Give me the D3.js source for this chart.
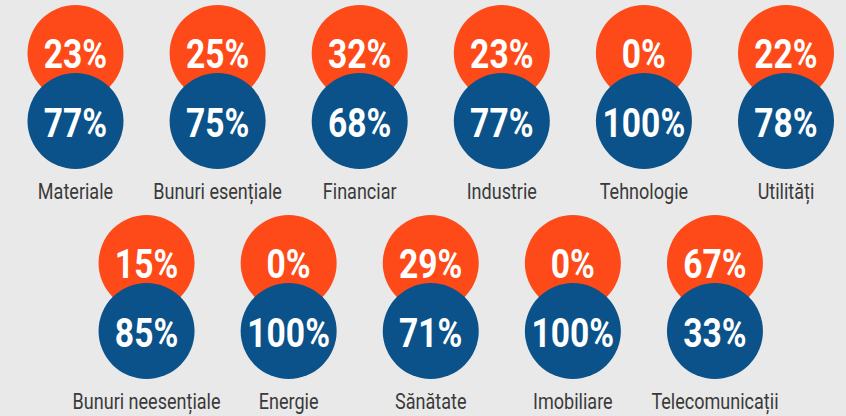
<!DOCTYPE html>
<html>
<head>
<meta charset="utf-8">
<script src="https://cdn.jsdelivr.net/npm/d3@7"></script>
<style>
  html, body { margin: 0; padding: 0; background: #e9e9e9; }
  svg { display: block; }
</style>
</head>
<body>
<svg id="chart" width="846" height="416"></svg>
<script>
// Sector breakdown: share in the orange group vs. the blue group (percent)
const sectors = ["Materiale", "Bunuri esențiale", "Financiar", "Industrie", "Tehnologie", "Utilități",
                 "Bunuri neesențiale", "Energie", "Sănătate", "Imobiliare", "Telecomunicații"];
const orangeShare = [23, 25, 32, 23, 0, 22, 15, 0, 29, 0, 67];
const blueShare   = [77, 75, 68, 77, 100, 78, 85, 100, 71, 100, 33];
const rowSizes = [6, 5];

const W = 846, H = 416;
const svg = d3.select("#chart");
svg.append("rect").attr("width", W).attr("height", H).attr("fill", "#e9e9e9");

const FONT = "Roboto, 'Liberation Sans', sans-serif";
const R = 48;
// horizontal squeeze that gives the condensed lettering
const PCT_SX = 0.84, LABEL_SX = 0.82;

// Staggered layout: row 1 sits on even slots, row 2 on odd slots
const slotX = d3.scaleLinear().domain([0, 10]).range([75.5, 786]);
const rowY = d3.scaleLinear().domain([0, 1]).range([0, 210]);

const items = sectors.map((name, i) => {
  const row = i < rowSizes[0] ? 0 : 1;
  const col = row === 0 ? i : i - rowSizes[0];
  return { name, orange: orangeShare[i], blue: blueShare[i], slot: col * 2 + row, row };
});

const fmt = v => v + "%";

const g = svg.selectAll("g.sector").data(items).join("g")
  .attr("class", "sector")
  .attr("transform", d => `translate(${slotX(d.slot)},${rowY(d.row)})`);

g.append("circle").attr("cy", 53).attr("r", R).attr("fill", "#fd4a18");
g.append("circle").attr("cy", 121).attr("r", R).attr("fill", "#0a5289");

g.append("text")
  .attr("transform", `translate(0,68) scale(${PCT_SX},1)`).attr("text-anchor", "middle")
  .attr("font-family", FONT).attr("font-weight", "bold").attr("font-size", 40)
  .attr("fill", "#ffffff")
  .text(d => fmt(d.orange));

g.append("text")
  .attr("transform", `translate(0,137) scale(${PCT_SX},1)`).attr("text-anchor", "middle")
  .attr("font-family", FONT).attr("font-weight", "bold").attr("font-size", 40)
  .attr("fill", "#ffffff")
  .text(d => fmt(d.blue));

g.append("text")
  .attr("transform", `translate(0,199) scale(${LABEL_SX},1)`).attr("text-anchor", "middle")
  .attr("font-family", FONT).attr("font-size", 22)
  .attr("fill", "#3a3a3a")
  .text(d => d.name);
</script>
</body>
</html>
